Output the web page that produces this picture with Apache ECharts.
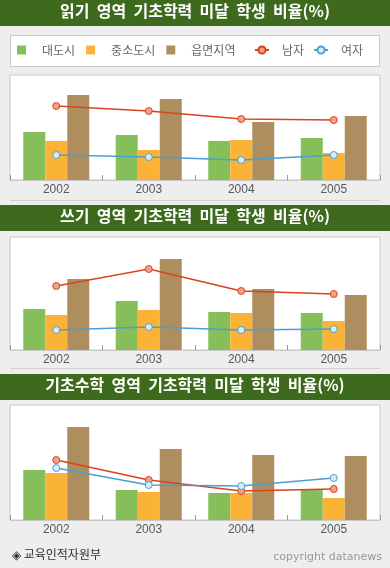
<!DOCTYPE html>
<html>
<head>
<meta charset="utf-8">
<script src="https://cdn.jsdelivr.net/npm/echarts@6/dist/echarts.min.js"></script>
<style>
    html, body { margin: 0; padding: 0; background: #eeeeee; }
    #myChart { width: 390px; height: 568px; }
</style>
</head>
<body>
<div id="myChart"></div>
<script>
// 데이터 (그림에서 읽은 추정값, %)
let years = ['2002', '2003', '2004', '2005'];
let titles = [
    '읽기  영역  기초학력  미달  학생  비율(%)',
    '쓰기  영역  기초학력  미달  학생  비율(%)',
    '기초수학  영역  기초학력  미달  학생  비율(%)'
];
let seriesNames = ['대도시', '중소도시', '읍면지역', '남자', '여자'];

// 읽기
let readCity = [4.8, 4.5, 3.9, 4.2];
let readTown = [3.9, 3.0, 4.0, 2.7];
let readRural = [8.5, 8.1, 5.8, 6.4];
let readMale = [7.4, 6.9, 6.1, 6.0];
let readFemale = [2.5, 2.3, 2.0, 2.5];
// 쓰기
let writeCity = [4.1, 4.9, 3.8, 3.7];
let writeTown = [3.5, 4.0, 3.7, 2.9];
let writeRural = [7.1, 9.1, 6.1, 5.5];
let writeMale = [6.4, 8.1, 5.9, 5.6];
let writeFemale = [2.0, 2.3, 2.0, 2.1];
// 기초수학
let mathCity = [5.0, 3.0, 2.7, 3.1];
let mathTown = [4.7, 2.8, 2.7, 2.2];
let mathRural = [9.3, 7.1, 6.5, 6.4];
let mathMale = [6.0, 4.0, 2.9, 3.1];
let mathFemale = [5.2, 3.5, 3.4, 4.2];

let yMax = [10.5, 11.3, 11.5];

let colors = {
    city: '#86bf59',
    town: '#fbb337',
    rural: '#ae8e5f',
    male: '#d9431f',
    maleFill: '#f0a08c',
    female: '#4a9fd6',
    femaleFill: '#d9eaf8',
    bar: '#3d6a1c'
};

let grids = [
    { left: 10, right: 10, top: 75, height: 105 },
    { left: 10, right: 10, top: 237, height: 113 },
    { left: 10, right: 10, top: 405, height: 115 }
];
let titleTops = [0, 205, 374];

let chartData = [
    [readCity, readTown, readRural, readMale, readFemale],
    [writeCity, writeTown, writeRural, writeMale, writeFemale],
    [mathCity, mathTown, mathRural, mathMale, mathFemale]
];

let myChart = echarts.init(document.getElementById('myChart'));

let cjk = '"Noto Sans CJK KR", sans-serif';

let xAxis = [], yAxis = [], series = [], title = [], graphic = [];

grids.forEach(function (g, i) {
    g.show = true;
    g.backgroundColor = '#fff';
    g.borderColor = '#c8c8c8';
    g.borderWidth = 1;
    g.containLabel = false;

    xAxis.push({
        type: 'category',
        gridIndex: i,
        data: years,
        boundaryGap: true,
        axisLine: { lineStyle: { color: '#c8c8c8', width: 1 } },
        axisTick: { show: true, inside: true, length: 5, lineStyle: { color: '#999' } },
        axisLabel: {
            color: '#595959',
            fontSize: 12,
            fontFamily: '"Liberation Sans Narrow", "Liberation Sans", sans-serif',
            margin: 4
        }
    });
    yAxis.push({
        type: 'value',
        gridIndex: i,
        min: 0,
        max: yMax[i],
        show: false,
        splitLine: { show: false }
    });

    let d = chartData[i];
    let barColors = [colors.city, colors.town, colors.rural];
    for (let k = 0; k < 3; k++) {
        series.push({
            name: seriesNames[k],
            type: 'bar',
            xAxisIndex: i,
            yAxisIndex: i,
            barWidth: 22,
            barGap: '0%',
            itemStyle: { color: barColors[k] },
            data: d[k],
            z: 2
        });
    }
    series.push({
        name: seriesNames[3],
        type: 'line',
        xAxisIndex: i,
        yAxisIndex: i,
        symbol: 'circle',
        symbolSize: 7,
        itemStyle: { color: colors.maleFill, borderColor: colors.male, borderWidth: 1 },
        lineStyle: { color: colors.male, width: 1.5 },
        data: d[3],
        z: 5
    });
    series.push({
        name: seriesNames[4],
        type: 'line',
        xAxisIndex: i,
        yAxisIndex: i,
        symbol: 'circle',
        symbolSize: 7,
        itemStyle: { color: colors.femaleFill, borderColor: colors.female, borderWidth: 1 },
        lineStyle: { color: colors.female, width: 1.5 },
        data: d[4],
        z: 5
    });

    // 제목 띠
    graphic.push({
        type: 'rect',
        shape: { x: 0, y: titleTops[i], width: 390, height: 26 },
        style: { fill: colors.bar },
        z: -10
    });
    title.push({
        text: titles[i],
        left: 'center',
        top: titleTops[i] + 3,
        padding: 0,
        textStyle: {
            color: '#fff',
            fontSize: 16,
            fontWeight: 'bold',
            fontFamily: cjk
        }
    });
});

// 범례 박스, 구분선
graphic.push({
    type: 'rect',
    shape: { x: 10.5, y: 35.5, width: 369, height: 31 },
    style: { fill: '#fff', stroke: '#c8c8c8', lineWidth: 1 },
    z: -10
});
[200.5, 368.5].forEach(function (y) {
    graphic.push({
        type: 'line',
        shape: { x1: 10, y1: y, x2: 380, y2: y },
        style: { stroke: '#d0d0d0', lineWidth: 1 },
        z: -10
    });
});
// 출처
graphic.push({
    type: 'text',
    left: 12,
    top: 548,
    style: { text: '◈ 교육인적자원부', fill: '#333', font: '12px ' + cjk }
});
graphic.push({
    type: 'text',
    right: 8,
    top: 552,
    style: { text: 'copyright datanews', fill: '#999', font: '11px "DejaVu Sans", sans-serif' }
});

let legendText = {
    color: '#666',
    fontSize: 12,
    fontFamily: cjk
};

let option = {
    backgroundColor: '#eeeeee',
    animation: false,
    title: title,
    legend: [
        {
            data: seriesNames.slice(0, 3),
            left: 17,
            top: 44,
            padding: 0,
            icon: 'rect',
            itemWidth: 9,
            itemHeight: 9,
            itemGap: 11,
            textStyle: Object.assign({ padding: [0, 0, 0, 11] }, legendText)
        },
        {
            data: seriesNames.slice(3),
            left: 254,
            top: 44,
            padding: 0,
            itemWidth: 14,
            itemHeight: 9,
            itemGap: 9,
            textStyle: Object.assign({ padding: [0, 0, 0, 8] }, legendText)
        }
    ],
    grid: grids,
    xAxis: xAxis,
    yAxis: yAxis,
    series: series,
    graphic: graphic
};
myChart.setOption(option);
</script>
</body>
</html>
